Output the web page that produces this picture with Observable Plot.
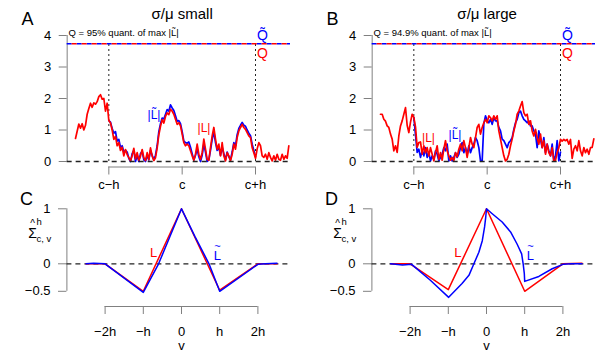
<!DOCTYPE html>
<html>
<head>
<meta charset="utf-8">
<script src="https://cdn.jsdelivr.net/npm/d3@7"></script>
<script src="https://cdn.jsdelivr.net/npm/@observablehq/plot@0.6"></script>
<style>
  html, body { margin: 0; padding: 0; background: white; }
  #wrap { position: relative; width: 610px; height: 360px; overflow: hidden; background: white; }
  #wrap > div { position: absolute; }
</style>
</head>
<body>
<div id="wrap">
  <div id="pA" style="left:0;top:0"></div>
  <div id="pB" style="left:305px;top:0"></div>
  <div id="pC" style="left:0;top:192px"></div>
  <div id="pD" style="left:305px;top:192px"></div>
</div>
<script>
// ---------- data ----------
// top panels: positions are sample indices; red starts at index 9, blue at index 29
const redStart = 9;
const blueStart = 29;
const topTickPos = [29, 73, 117];
const topTickLabels = ["c\u2212h", "c", "c+h"];
const yTopTicks = [0, 1, 2, 3, 4];
const qLevel = [3.74, 3.74]; // A, B

const redA = [0.73,0.96,1.19,1.06,1.2,1.0,1.15,1.5,1.68,1.85,1.72,1.86,1.82,1.9,2.06,2.12,1.98,2.0,1.6,1.85,
  1.3,1.22,1.0,0.7,0.8,0.5,0.6,0.35,0.45,0.18,0.38,0.22,0.12,0.02,0.18,0.42,0.08,0.28,0.04,0.17,
  0.38,0.12,0.03,0.28,0.06,0.43,0.17,0.03,0.12,0.43,0.85,1.12,1.33,1.22,1.43,1.54,1.49,1.66,1.6,1.5,
  1.34,1.18,1.23,1.13,0.87,0.6,0.5,0.55,0.5,0.34,0.18,0.04,0.23,0.55,0.23,0.07,0.28,0.71,0.39,0.07,
  0.04,0.44,0.81,1.08,0.71,0.39,0.55,0.18,0.6,0.18,0.02,0.28,0.18,0.02,0.23,0.55,0.39,0.76,0.97,1.08,
  1.18,1.08,1.02,0.92,0.81,0.76,0.44,0.28,0.1,0.4,0.6,0.5,0.18,0.13,0.23,0.07,0.28,0.13,0.02,0.18,
  0.04,0.23,0.07,0.04,0.23,0.07,0.18,0.1,0.5];
const blueA = [1.3,1.25,1.05,0.9,0.95,0.65,0.7,0.45,0.5,0.3,0.35,0.3,0.1,0.0,0.25,0.35,0.0,0.2,0.0,0.25,
  0.32,0.05,0.0,0.2,0.05,0.35,0.2,0.05,0.2,0.5,0.95,1.2,1.38,1.35,1.5,1.65,1.6,1.8,1.7,1.62,
  1.45,1.28,1.3,1.2,0.95,0.65,0.6,0.58,0.62,0.45,0.25,0.05,0.2,0.4,0.15,0.0,0.2,0.55,0.3,0.0,
  0.05,0.35,0.7,0.95,0.6,0.35,0.45,0.2,0.45,0.25,0.05,0.3,0.15,0.05,0.3,0.6,0.5,0.85,1.05,1.15,
  1.24,1.15,1.12,1.0,0.9,0.82,0.55,0.35,0.15];
const redB = [1.5,1.5,1.34,1.28,1.13,1.08,0.87,0.71,0.34,0.5,0.29,0.81,1.13,1.29,1.5,1.71,1.15,0.92,1.25,1.5,
  1.4,1.1,0.45,0.6,0.62,0.23,0.5,0.28,0.44,0.18,0.44,0.23,0.02,0.28,0.5,0.07,0.28,0.04,0.39,0.66,
  0.34,0.18,0.04,0.13,0.02,0.28,0.15,0.39,0.55,0.34,0.66,0.44,0.13,0.44,0.76,0.55,0.44,0.76,1.08,1.18,
  0.87,1.08,1.23,1.34,1.23,1.45,1.39,1.29,1.45,1.34,1.45,0.97,0.71,0.44,0.18,0.02,0.07,0.23,0.5,0.71,
  0.97,1.18,1.5,1.6,1.76,1.9,1.55,1.45,1.5,1.18,1.29,0.97,0.81,1.02,0.76,0.55,0.87,0.44,0.66,0.23,
  0.55,0.28,0.18,0.44,0.02,0.04,0.28,0.44,0.7,0.65,0.7,0.66,0.7,0.55,0.7,0.1,0.39,0.5,0.34,0.66,
  0.34,0.18,0.44,0.28,0.39,0.23,0.44,0.45,0.72];
const blueB = [1.4,0.85,0.29,0.39,0.13,0.34,0.18,0.44,0.13,0.29,0.02,0.18,0.07,0.34,0.23,0.02,0.13,0.23,0.44,0.34,
  0.55,0.02,0.18,0.02,0.13,0.28,0.13,0.23,0.44,0.6,0.28,0.44,0.23,0.5,0.28,0.44,0.55,0.76,0.66,0.44,
  0.02,0.02,1.2,1.45,1.3,1.23,1.34,1.18,1.39,1.29,1.29,1.08,0.97,0.71,0.66,0.55,0.44,0.6,0.66,0.76,
  1.02,1.23,1.34,1.55,1.6,1.45,1.34,1.29,1.23,1.29,1.13,1.13,0.97,0.87,0.44,0.97,0.71,0.44,0.76,0.28,
  0.55,0.34,0.18,0.55,0.02,0.18,0.66,0.02,0.3];

// bottom panels: lag v in units of h
const bottomTickPos = [-2, -1, 0, 1, 2];
const bottomTickLabels = ["\u22122h", "\u2212h", "0", "h", "2h"];
const yBottomTicks = [-0.5, 0, 1];
const yBottomLabels = ["\u22120.5", "0", "1"];

const redCv = [-2.5, -2, -1, 0, 1, 2, 2.5];
const redCy = [0, 0, -0.5, 1, -0.48, 0, 0];
const blueCv = [-2.5, -2.3, -2, -1, -0.6, -0.3, 0, 0.35, 0.72, 1, 2, 2.2, 2.5];
const blueCy = [0, 0.01, 0, -0.52, 0, 0.5, 1, 0.5, 0, -0.5, -0.01, 0, 0.01];
const redDv = [-2.5, -2, -1, 0, 1, 2, 2.5];
const redDy = [0, 0, -0.47, 1, -0.5, 0, 0.01];
const blueDv = [-2.51,-2.2,-1.96,-1.47,-0.99,-0.64,-0.46,-0.33,-0.2,-0.11,-0.05,-0.02,0,0.15,0.41,0.63,0.8,0.92,0.96,0.99,1.0,1.37,1.72,2.0,2.24,2.5];
const blueDy = [0,-0.02,-0.01,-0.3,-0.61,-0.36,-0.21,0,0.21,0.42,0.67,0.85,1,0.91,0.76,0.58,0.36,0.18,0,-0.18,-0.32,-0.23,-0.09,-0.01,0,0];

// ---------- drawing ----------
const FONT = "'Liberation Sans', Arial, Helvetica, sans-serif";
const GRAY = "#808080";
const RED = "#ff0000";
const BLUE = "#0000ff";

function topPanel(red, blue, q, title, letter, qText, lblRed, lblBlue) {
  const rd = red.map((y, i) => ({p: redStart + i, y}));
  const bd = blue.map((y, i) => ({p: blueStart + i, y}));
  return Plot.plot({
    width: 305, height: 192,
    marginLeft: 66.7, marginRight: 0, marginTop: 0, marginBottom: 192 - 166.5,
    x: {domain: [0, 147], range: [60, 305]},
    y: {domain: [0, 4], range: [161, 35]},
    style: {fontFamily: FONT, fontSize: "13px", background: "transparent", overflow: "visible", color: "black"},
    marks: [
      Plot.axisY({ticks: yTopTicks, tickFormat: d => String(d), tickSize: 8, tickPadding: 8, stroke: GRAY, label: null, fontSize: 13}),
      Plot.ruleX([4], {y1: 0, y2: 4, stroke: GRAY}),
      Plot.axisX({ticks: topTickPos, tickFormat: d => topTickLabels[topTickPos.indexOf(d)], tickSize: 8, tickPadding: 5, stroke: GRAY, label: null, fontSize: 13}),
      Plot.ruleY([0], {x1: topTickPos[0], x2: topTickPos[2], dy: 5.5, stroke: GRAY}),
      Plot.ruleX([topTickPos[0], topTickPos[2]], {y1: 0, y2: q, stroke: "#222", strokeDasharray: "2,3", strokeWidth: 1}),
      Plot.lineY(bd, {x: "p", y: "y", stroke: BLUE, strokeWidth: 1.7}),
      Plot.lineY(rd, {x: "p", y: "y", stroke: RED, strokeWidth: 1.7}),
      Plot.ruleY([0], {x1: 4, x2: 138, stroke: "#222", strokeDasharray: "5,4", strokeWidth: 1.3}),
      Plot.ruleY([q], {x1: 4, x2: 138, stroke: BLUE, strokeDasharray: "5,5", strokeWidth: 1.4}),
      Plot.ruleY([q], {x1: 4, x2: 138, stroke: RED, strokeDasharray: "5,5", strokeDashoffset: 5, strokeWidth: 1.4}),
      Plot.text([title], {x: () => 73, y: () => 4, dy: -21, fontSize: 15}),
      Plot.text([letter], {x: () => 4, y: () => 4, dx: -39.7, dy: -16, fontSize: 18}),
      Plot.text([qText], {x: () => 4.8, y: () => 4, dy: -3, fontSize: 9.5, textAnchor: "start"}),
      Plot.text(["Q\u0303"], {x: () => 121.2, y: () => q, dy: -8, fontSize: 14, fill: BLUE}),
      Plot.text(["Q"], {x: () => 121.2, y: () => q, dy: 10, fontSize: 14, fill: RED}),
      Plot.text(["|L|"], {x: () => lblRed[0], y: () => lblRed[1], fontSize: 12, fill: RED}),
      Plot.text(["|L\u0303|"], {x: () => lblBlue[0], y: () => lblBlue[1], fontSize: 12, fill: BLUE})
    ]
  });
}

function bottomPanel(rv, ry, bv, by, letter, lblRed, lblBlue) {
  const rd = rv.map((v, i) => ({v, y: ry[i]}));
  const bd = bv.map((v, i) => ({v, y: by[i]}));
  return Plot.plot({
    width: 305, height: 168,
    marginLeft: 66.4, marginRight: 0, marginTop: 0, marginBottom: 168 - 114,
    x: {domain: [-3, 3], range: [181 - 3 * 38.2, 181 + 3 * 38.2]},
    y: {domain: [-0.5, 1], range: [98.8, 16.3]},
    style: {fontFamily: FONT, fontSize: "13px", background: "transparent", overflow: "visible", color: "black"},
    marks: [
      Plot.axisY({ticks: yBottomTicks, tickFormat: d => yBottomLabels[yBottomTicks.indexOf(d)], tickSize: 8.4, tickPadding: 8, stroke: GRAY, label: null, fontSize: 13}),
      Plot.ruleX([-3], {y1: -0.5, y2: 1, stroke: GRAY}),
      Plot.axisX({ticks: bottomTickPos, tickFormat: d => bottomTickLabels[bottomTickPos.indexOf(d)], tickSize: 8, tickPadding: 12, stroke: GRAY, label: null, fontSize: 13}),
      Plot.ruleY([-0.5], {x1: -2, x2: 2, dy: 15.2, stroke: GRAY}),
      Plot.ruleY([0], {x1: -3, x2: 2.87, stroke: "#222", strokeDasharray: "5,4", strokeWidth: 1.3}),
      Plot.line(rd, {x: "v", y: "y", stroke: RED, strokeWidth: 1.5}),
      Plot.line(bd, {x: "v", y: "y", stroke: BLUE, strokeWidth: 1.5}),
      Plot.text(["v"], {x: () => 0, y: () => -0.5, dy: 55, fontSize: 13}),
      Plot.text([letter], {x: () => -3, y: () => 1, dx: -40.4, dy: -9.8, fontSize: 18}),
      Plot.text(["\u03A3"], {x: () => -3, y: () => 1, dx: -34.4, dy: 25, fontSize: 14}),
      Plot.text(["^"], {x: () => -3, y: () => 1, dx: -34.4, dy: 14.5, fontSize: 10}),
      Plot.text(["h"], {x: () => -3, y: () => 1, dx: -27.7, dy: 13.2, fontSize: 9.5}),
      Plot.text(["c, v"], {x: () => -3, y: () => 1, dx: -30.4, dy: 29.7, fontSize: 9.5, textAnchor: "start"}),
      Plot.text(["L"], {x: () => lblRed[0], y: () => lblRed[1], fontSize: 13, fill: RED}),
      Plot.text(["L"], {x: () => lblBlue[0], y: () => lblBlue[1], dy: 3, fontSize: 13, fill: BLUE}),
      Plot.text(["~"], {x: () => lblBlue[0], y: () => lblBlue[1], dy: -7, fontSize: 11, fill: BLUE})
    ]
  });
}

document.getElementById("pA").appendChild(topPanel(redA, blueA, qLevel[0], "\u03C3/\u03BC small", "A", "Q = 95% quant. of max |L\u0303|", [86.1, 1.05], [56.1, 1.48]));
document.getElementById("pB").appendChild(topPanel(redB, blueB, qLevel[1], "\u03C3/\u03BC large", "B", "Q = 94.9% quant. of max |L\u0303|", [37.8, 0.73], [53.7, 0.84]));
document.getElementById("pC").appendChild(bottomPanel(redCv, redCy, blueCv, blueCy, "C", [-0.73, 0.196], [0.94, 0.196]));
document.getElementById("pD").appendChild(bottomPanel(redDv, redDy, blueDv, blueDy, "D", [-0.75, 0.196], [1.15, 0.196]));
</script>
</body>
</html>
